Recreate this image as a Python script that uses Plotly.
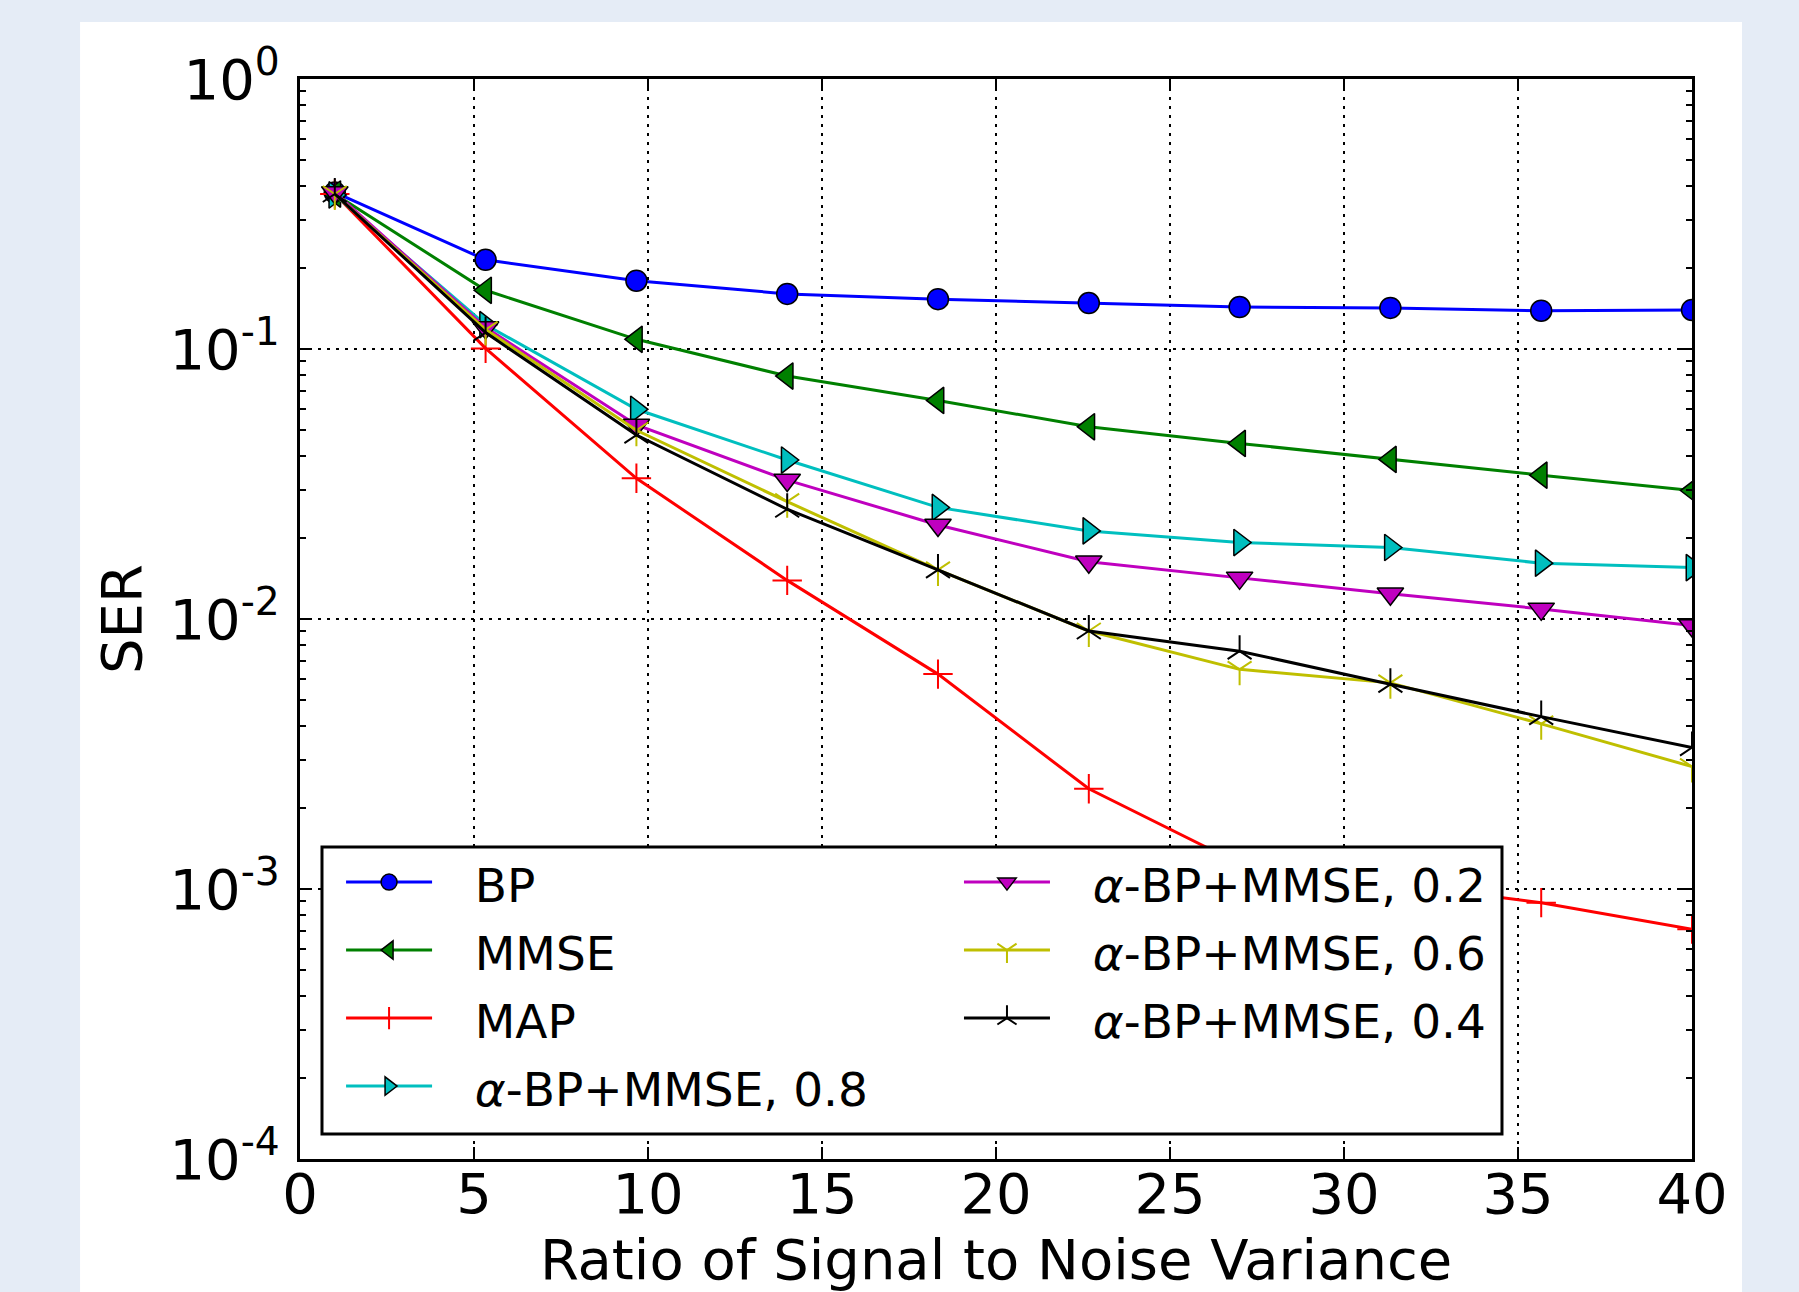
import plotly.graph_objects as go

# ---- data ----
x_vals = [1, 5.333, 9.667, 14, 18.333, 22.667, 27, 31.333, 35.667, 40]
bp = [0.38, 0.214, 0.179, 0.160, 0.153, 0.148, 0.143, 0.142, 0.1386, 0.1395]
mmse = [0.375, 0.165, 0.1086, 0.0794, 0.0645, 0.0515, 0.0447, 0.039, 0.0341, 0.0299]
map_ser = [0.375, 0.1005, 0.0332, 0.0139, 0.00625, 0.00235, 0.00124, 0.00105, 0.00089, 0.00071]
a08 = [0.372, 0.123, 0.0598, 0.0388, 0.0259, 0.0212, 0.0192, 0.0184, 0.0161, 0.0155]
a02 = [0.38, 0.12, 0.0523, 0.0327, 0.0223, 0.0163, 0.0142, 0.0124, 0.0109, 0.00946]
a06 = [0.375, 0.118, 0.050, 0.0272, 0.0152, 0.00903, 0.00651, 0.0058, 0.00409, 0.00284]
a04 = [0.375, 0.115, 0.048, 0.0255, 0.0152, 0.00903, 0.0076, 0.00573, 0.00435, 0.00334]

x_ticks = [0, 5, 10, 15, 20, 25, 30, 35, 40]
y_ticks = [1, 0.1, 0.01, 0.001, 0.0001]
y_ticktext = ["10<sup>0</sup>", "10<sup>-1</sup>", "10<sup>-2</sup>", "10<sup>-3</sup>", "10<sup>-4</sup>"]
y_minor = [m * 10 ** e for e in range(-4, 0) for m in range(2, 10)]

FONT = "DejaVu Sans"


def legend_label(text):
    return '<span style="font-size:47px">\u00a0\u00a0\u2006' + text + '</span>'


series = [
    # name, data, color, symbol, filled, legend, size
    ("BP", bp, "#0000FF", "circle", True, "legend", 21),
    ("MMSE", mmse, "#008000", "triangle-left", True, "legend", 23),
    ("MAP", map_ser, "#FF0000", "cross-thin", False, "legend", 21),
    ("<i>α</i>-BP+MMSE, 0.8", a08, "#00BFBF", "triangle-right", True, "legend", 23),
    ("<i>α</i>-BP+MMSE, 0.2", a02, "#BF00BF", "triangle-down", True, "legend2", 23),
    ("<i>α</i>-BP+MMSE, 0.6", a06, "#BFBF00", "y-down", False, "legend2", 20),
    ("<i>α</i>-BP+MMSE, 0.4", a04, "#000000", "y-up", False, "legend2", 20),
]

fig = go.Figure()
for name, data, color, symbol, filled, leg, msize in series:
    if filled:
        marker = dict(symbol=symbol, size=msize, color=color,
                      line=dict(color="black", width=1.5))
    else:
        marker = dict(symbol=symbol, size=msize, color=color,
                      line=dict(color=color, width=2))
    fig.add_trace(go.Scatter(
        x=x_vals, y=data, name=legend_label(name), mode="lines+markers",
        line=dict(color=color, width=3), marker=marker, legend=leg,
    ))

# white figure area (matplotlib-like canvas) behind the axes
fig.add_shape(type="rect", xref="paper", yref="paper",
              x0=-0.158, x1=1.0359, y0=-0.1231, y1=1.0528,
              fillcolor="white", line=dict(width=0), layer="below")
# legend frame (covers lines beneath, like the reference)
fig.add_shape(type="rect", xref="paper", yref="paper",
              x0=0.0158, x1=0.8635, y0=0.0231, y1=0.2889,
              fillcolor="white", line=dict(color="black", width=3), layer="above")

axis_common = dict(
    showline=True, linecolor="black", linewidth=3, mirror="allticks",
    ticks="inside", ticklen=12, tickwidth=2, tickcolor="black",
    showgrid=True, gridcolor="black", gridwidth=2, griddash="3px,6px",
    zeroline=False, automargin=False,
    tickfont=dict(family=FONT, size=56, color="black"),
)

fig.update_xaxes(
    range=[0, 40], tickvals=x_ticks, ticktext=[str(v) for v in x_ticks],
    title=dict(text="Ratio of Signal to Noise Variance",
               font=dict(family=FONT, size=56, color="black"), standoff=47),
    ticklabelstandoff=-16,
    **axis_common,
)
fig.update_yaxes(
    type="log", range=[-4, 0], tickvals=y_ticks, ticktext=y_ticktext,
    minor=dict(tickmode="array", tickvals=y_minor, ticks="inside", ticklen=6,
               tickwidth=2, tickcolor="black", showgrid=False),
    title=dict(text="SER", font=dict(family=FONT, size=56, color="black"), standoff=10),
    ticklabelstandoff=6,
    **axis_common,
)

legend_common = dict(
    orientation="v", yanchor="top", xanchor="left",
    bgcolor="rgba(0,0,0,0)", borderwidth=0,
    font=dict(family=FONT, size=50, color="black"),
    itemwidth=86, traceorder="normal",
)

fig.update_layout(
    width=1799, height=1292,
    margin=dict(l=300, r=107, t=79, b=133),
    paper_bgcolor="#E5ECF6", plot_bgcolor="white",
    font=dict(family=FONT, color="black"),
    showlegend=True,
    legend=dict(x=0.0295, y=0.2925, **legend_common),
    legend2=dict(x=0.4734, y=0.2925, **legend_common),
)

fig.write_html("out.html", config={"displayModeBar": False},
               post_script="document.body.style.margin='0px';")
